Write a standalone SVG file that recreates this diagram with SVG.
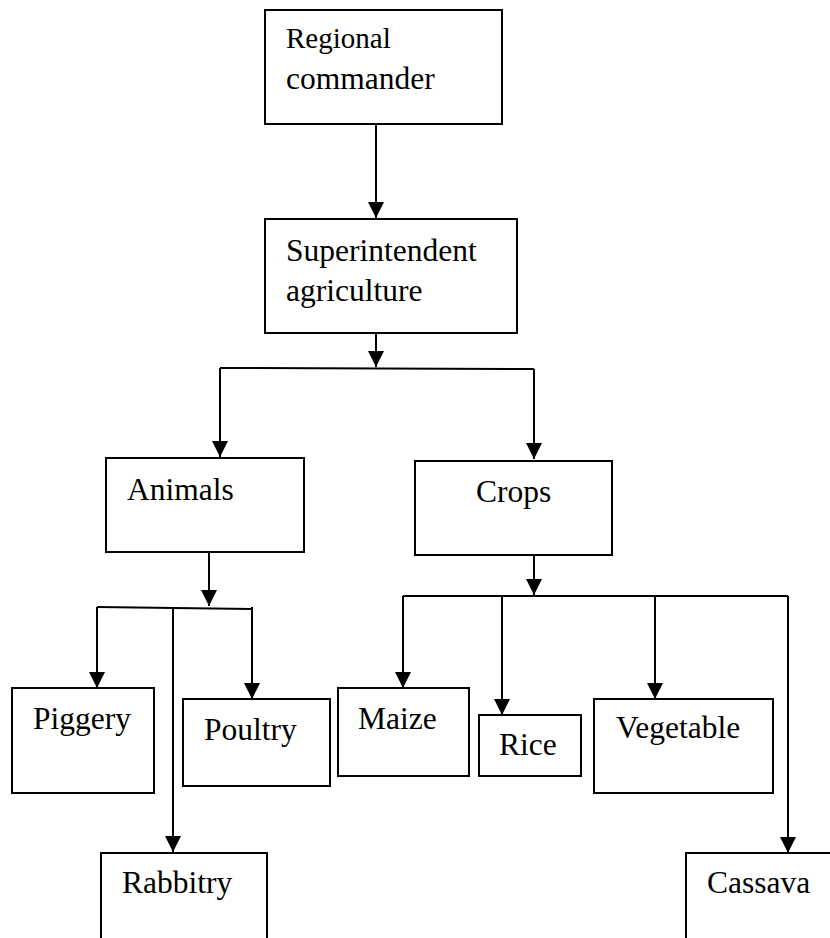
<svg xmlns="http://www.w3.org/2000/svg" width="830" height="938" viewBox="0 0 830 938">
<style>
.box{fill:#fff;stroke:#000;stroke-width:2}
text{font-family:'Liberation Serif','Times New Roman','DejaVu Serif',serif;font-size:31.5px;fill:#000}
.c{fill:none;stroke:#000;stroke-width:2}
</style>
<defs>
<marker id="ah" markerUnits="userSpaceOnUse" markerWidth="16" markerHeight="16" refX="15" refY="7.5" orient="auto" viewBox="0 0 15 15">
<path d="M0,0 L15,7.5 L0,15 z" fill="#000"/>
</marker>
</defs>
<rect width="830" height="938" fill="#fff"/>
<g id="connectors">
<line class="c" x1="376" y1="124" x2="376" y2="218" marker-end="url(#ah)"/>
<line class="c" x1="376" y1="334" x2="376" y2="367" marker-end="url(#ah)"/>
<polyline class="c" points="220,368 534,369"/>
<line class="c" x1="220" y1="368" x2="220" y2="457" marker-end="url(#ah)"/>
<line class="c" x1="534" y1="369" x2="534" y2="459" marker-end="url(#ah)"/>
<line class="c" x1="534" y1="555" x2="534" y2="595" marker-end="url(#ah)"/>
<polyline class="c" points="403,596 788,596"/>
<line class="c" x1="403" y1="596" x2="403" y2="688" marker-end="url(#ah)"/>
<line class="c" x1="502" y1="596" x2="502" y2="715" marker-end="url(#ah)"/>
<line class="c" x1="655" y1="596" x2="655" y2="699" marker-end="url(#ah)"/>
<line class="c" x1="788" y1="596" x2="788" y2="853" marker-end="url(#ah)"/>
<line class="c" x1="209" y1="552" x2="209" y2="606" marker-end="url(#ah)"/>
<polyline class="c" points="97,607 252,609"/>
<line class="c" x1="97" y1="607" x2="97" y2="688" marker-end="url(#ah)"/>
<line class="c" x1="252" y1="607" x2="252" y2="699" marker-end="url(#ah)"/>
<line class="c" x1="173" y1="608" x2="173" y2="852" marker-end="url(#ah)"/>
</g>
<g id="regional">
<rect class="box" x="265" y="10" width="237" height="114"/>
<text x="286" y="48" font-family="Liberation Serif, serif" style="font-size:29px">Regional</text>
<text x="286" y="89" font-family="Liberation Serif, serif">commander</text>
</g>
<g id="superintendent">
<rect class="box" x="265" y="219" width="252" height="114"/>
<text x="286" y="261">Superintendent</text>
<text x="286" y="301">agriculture</text>
</g>
<g id="animals">
<rect class="box" x="106" y="458" width="198" height="94"/>
<text x="127" y="500">Animals</text>
</g>
<g id="crops">
<rect class="box" x="415" y="461" width="197" height="94"/>
<text x="476" y="502">Crops</text>
</g>
<g id="piggery">
<rect class="box" x="12" y="688" width="142" height="105"/>
<text x="33" y="729">Piggery</text>
</g>
<g id="poultry">
<rect class="box" x="183" y="699" width="147" height="87"/>
<text x="204" y="740">Poultry</text>
</g>
<g id="rabbitry">
<rect class="box" x="101" y="853" width="166" height="100"/>
<text x="122" y="893">Rabbitry</text>
</g>
<g id="maize">
<rect class="box" x="338" y="688" width="131" height="88"/>
<text x="358" y="729">Maize</text>
</g>
<g id="rice">
<rect class="box" x="479" y="715" width="102" height="61"/>
<text x="499" y="755">Rice</text>
</g>
<g id="vegetable">
<rect class="box" x="594" y="699" width="179" height="94"/>
<text x="616" y="738">Vegetable</text>
</g>
<g id="cassava">
<rect class="box" x="686" y="853" width="160" height="100"/>
<text x="707" y="893">Cassava</text>
</g>
</svg>
